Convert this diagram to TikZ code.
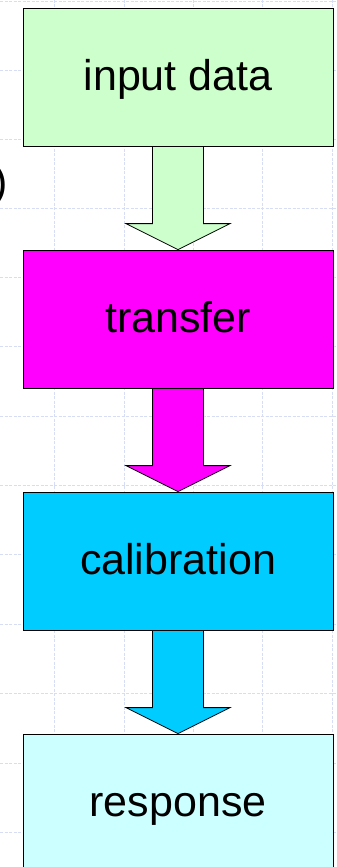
\documentclass[tikz,border=0pt]{standalone}
\usepackage{fontspec}
\setmainfont{Liberation Sans}
\usetikzlibrary{calc,backgrounds,shadows}
\definecolor{cInput}{HTML}{CCFFCC}
\definecolor{cTransfer}{HTML}{FF00FF}
\definecolor{cCalib}{HTML}{00CCFF}
\definecolor{cResp}{HTML}{CCFFFF}
\definecolor{cGrid}{HTML}{D6DDF5}
\tikzset{
  gridline/.style={draw=cGrid, line width=0.9pt, dash pattern=on 3pt off 1.5pt},
  stagebox/.style={draw=black, line width=0.8pt, minimum width=310pt, minimum height=138pt,
    inner sep=0pt, text height=35pt, text depth=9pt, font=\fontsize{43}{50}\selectfont,
    drop shadow={shadow xshift=1.3pt, shadow yshift=-1.3pt, fill=gray!80, opacity=1}},
  blockarrow/.style={draw=black, line width=0.8pt}
}
\newcommand{\blockarr}[3]{%
  \fill[#3] ($(#1.south)+(-25.5,0)$) -- ($(#2.north)+(-25.5,-26)$) -- ($(#2.north)+(-52,-26)$)
    -- (#2.north) -- ($(#2.north)+(52,-26)$) -- ($(#2.north)+(25.5,-26)$) -- ($(#1.south)+(25.5,0)$) -- cycle;
  \draw[blockarrow] ($(#1.south)+(-25.5,0)$) -- ($(#2.north)+(-25.5,-26)$) -- ($(#2.north)+(-52,-26)$)
    -- (#2.north) -- ($(#2.north)+(52,-26)$) -- ($(#2.north)+(25.5,-26)$) -- ($(#1.south)+(25.5,0)$);
}
\begin{document}
\begin{tikzpicture}[x=1pt,y=-1pt]
\useasboundingbox (0,0) rectangle (337,867);
\clip (0,0) rectangle (337,867);
\begin{scope}[on background layer]
\fill[white] (0,0) rectangle (337,867);
\foreach \x in {54,124,193,262,332} \draw[gridline] (\x,0) -- (\x,867);
\foreach \y in {1,70,139,208,277,346,416,485,554,624,693,763,832} \draw[gridline] (0,\y) -- (337,\y);
\end{scope}

\node[font=\fontsize{43}{50}\selectfont, anchor=base east, inner sep=0pt] (paren) at (8,196) {)};

\node[stagebox, fill=cInput] (input) at (178,77) {input data};
\node[stagebox, fill=cTransfer] (transfer) at (178,319) {transfer};
\node[stagebox, fill=cCalib] (calib) at (178,561) {calibration};
\node[stagebox, fill=cResp] (resp) at (178,803) {response};

\begin{scope}[on background layer]
\blockarr{input}{transfer}{cInput}
\blockarr{transfer}{calib}{cTransfer}
\blockarr{calib}{resp}{cCalib}
\end{scope}
\end{tikzpicture}
\end{document}
